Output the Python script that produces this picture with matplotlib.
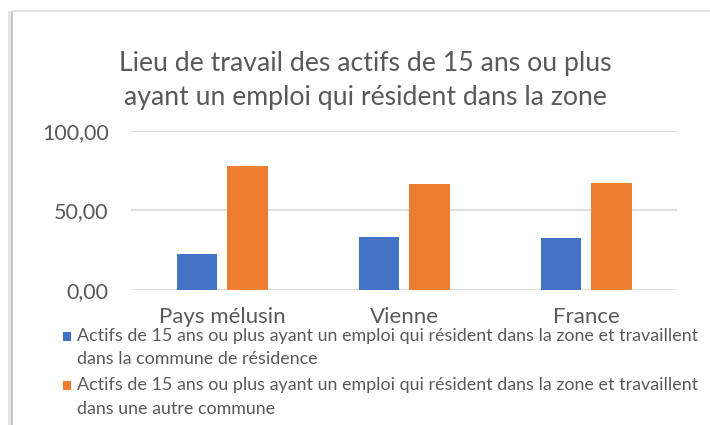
import numpy as np
import matplotlib
matplotlib.use("Agg")
import matplotlib.pyplot as plt
from matplotlib.patches import Rectangle
from matplotlib.lines import Line2D

# Data
zones = ["Pays mélusin", "Vienne", "France"]
meme_commune = [22.3, 33.4, 32.8]
autre_commune = [77.7, 66.6, 67.2]
series_labels = [
    ["Actifs de 15 ans ou plus ayant un emploi qui résident dans la zone et travaillent",
     "dans la commune de résidence"],
    ["Actifs de 15 ans ou plus ayant un emploi qui résident dans la zone et travaillent",
     "dans une autre commune"],
]
title_lines = ["Lieu de travail des actifs de 15 ans ou plus",
               "ayant un emploi qui résident dans la zone"]
yticks = [0, 50, 100]

blue = "#4472C4"
orange = "#ED7D31"
txt = "#595959"
grid = "#D9D9D9"

W, H = 710, 425
plt.rcParams['font.family'] = ['Lato', 'DejaVu Sans']
fig = plt.figure(figsize=(W / 100, H / 100), dpi=100)


def fx(px):
    return px / W


def fy(py):
    return 1 - py / H


# chart frame with a soft shadow on the left
fig.add_artist(Rectangle((fx(8), 0), fx(4), fy(11), transform=fig.transFigure,
                         facecolor="#E4E4E4", edgecolor="none"))
fig.add_artist(Line2D([fx(11.5), fx(11.5)], [0, fy(11)], transform=fig.transFigure,
                      color="#BDBDBD", lw=1.2))
fig.add_artist(Line2D([fx(11.5), 1], [fy(11), fy(11)], transform=fig.transFigure,
                      color="#E2E2E2", lw=1.5))

ax = fig.add_axes([fx(131), fy(290), fx(677) - fx(131), fy(130.7) - fy(290)])
x = np.arange(len(zones))
w = 0.22
ax.bar(x - 0.14, meme_commune, w, color=blue, zorder=3)
ax.bar(x + 0.14, autre_commune, w, color=orange, zorder=3)

ax.set_xlim(-0.5, 2.5)
ax.set_ylim(0, 100)
ax.set_yticks(yticks)
ax.set_yticklabels([f"{v:.2f}".replace(".", ",") for v in yticks], fontsize=15.5, color=txt)
ax.set_xticks(x)
ax.set_xticklabels(zones, fontsize=16, color=txt)
ax.tick_params(axis="both", length=0)
ax.tick_params(axis="y", pad=16)
ax.tick_params(axis="x", pad=12)
ax.yaxis.grid(True, color=grid, lw=1.2, zorder=0)
for s in ax.spines.values():
    s.set_visible(False)

for i, line in enumerate(title_lines):
    fig.text(0.514, fy(63 + i * 35), line, ha="center", va="center", fontsize=19.2,
             color=txt)

# legend drawn by hand: marker level with the first line of each entry
colors = [blue, orange]
y0 = [336, 385]
for c, yy, lines in zip(colors, y0, series_labels):
    fig.add_artist(Rectangle((fx(63), fy(yy + 4.5)), fx(8), fy(yy - 4.5) - fy(yy + 4.5),
                             transform=fig.transFigure, facecolor=c, edgecolor="none"))
    for i, line in enumerate(lines):
        fig.text(fx(77), fy(yy + i * 23.5), line, ha="left", va="center",
                 fontsize=12.9, color=txt)

fig.savefig("out.png", dpi=100)
